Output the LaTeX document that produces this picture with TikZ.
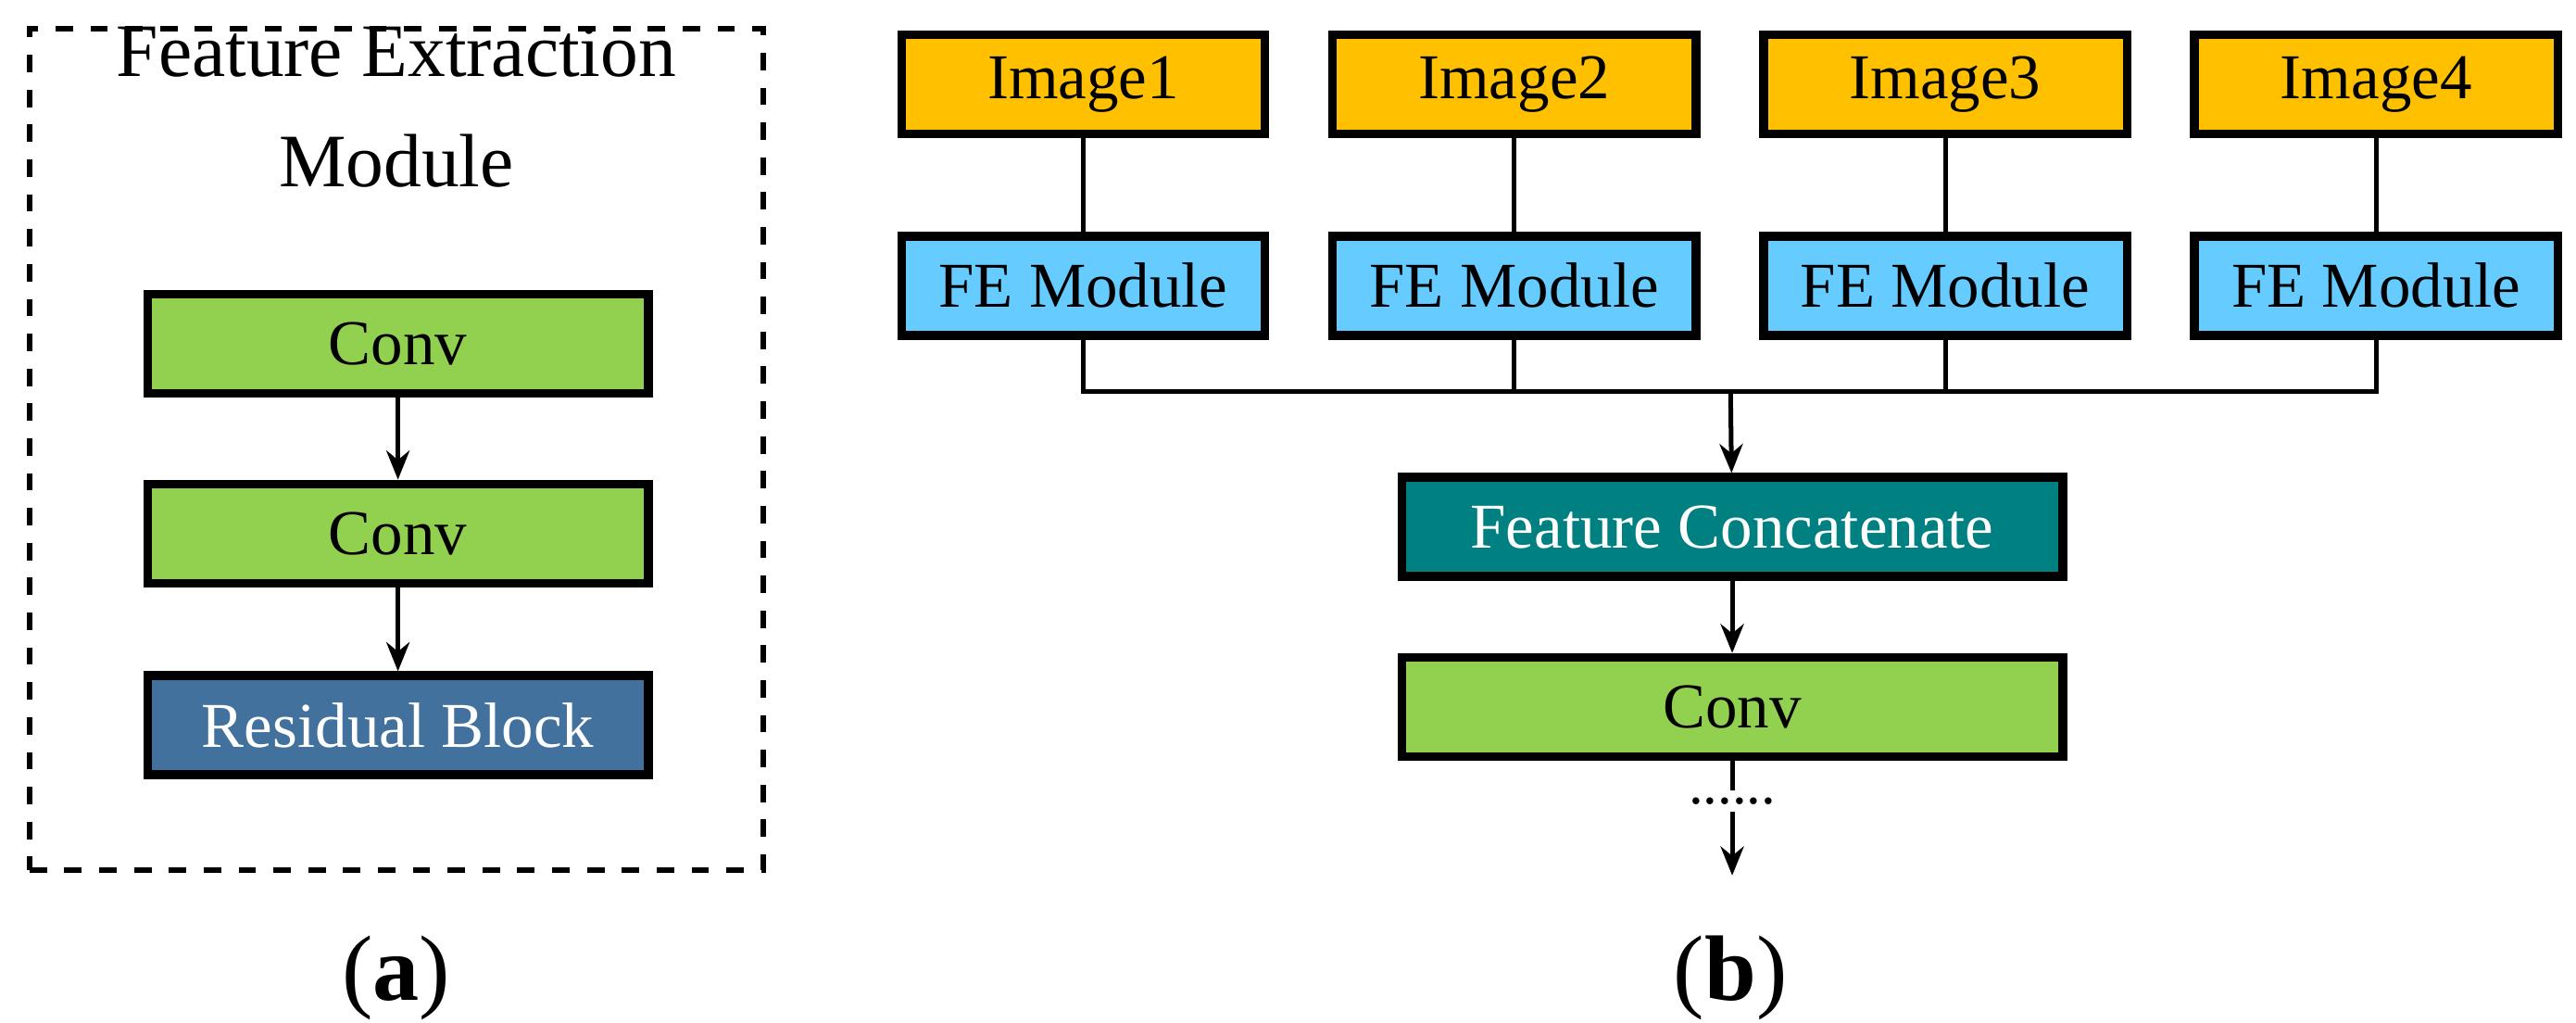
\documentclass[tikz,border=0pt]{standalone}
\usepackage{fontspec}
\setmainfont{Liberation Serif}
\usetikzlibrary{arrows.meta, positioning}
\definecolor{orange1}{HTML}{FFC000}
\definecolor{blue1}{HTML}{66CCFF}
\definecolor{green1}{HTML}{92D050}
\definecolor{teal1}{HTML}{008080}
\definecolor{navy1}{HTML}{41719C}

\begin{document}
\begin{tikzpicture}[x=0.01cm, y=-0.01cm,
    box/.style={draw=black, line width=1.5pt, minimum height=0.6cm, inner sep=0pt, font=\fontsize{11}{13}\selectfont},
    small/.style={box, minimum width=2.2cm},
    wide/.style={box, minimum width=3.03cm},
    big/.style={box, minimum width=4.0cm},
    arr/.style={-{Stealth[length=5pt,width=4pt]}, line width=0.8pt}]
    \useasboundingbox (0,0) rectangle (1560,619);
    % panel (a)
    \node[draw, dashed, line width=1pt, minimum width=4.44cm, minimum height=5.09cm] (frame) at (240,272) {};
    \node[align=center, font=\fontsize{13}{19}\selectfont] (title) at (240,65) {Feature Extraction\\Module};
    \node[wide, fill=green1] (conv1) at (241,208) {Conv};
    \node[wide, fill=green1] (conv2) at (241,323) {Conv};
    \node[wide, fill=navy1, text=white] (res) at (241,439) {Residual Block};
    \draw[arr] (conv1) -- (conv2);
    \draw[arr] (conv2) -- (res);
    \node[font=\fontsize{16}{18}\selectfont] (la) at (240,592) {(\textbf{a})};

    % panel (b)
    \foreach \i/\x in {1/656, 2/917, 3/1178, 4/1439} {
        \node[small, fill=orange1] (img\i) at (\x,51) {Image\i};
        \node[small, fill=blue1] (fe\i) at (\x,173) {FE Module};
        \draw[line width=0.8pt] (img\i) -- (fe\i);
    }
    \coordinate (bus) at (1048,237);
    \draw[line width=0.8pt] (fe1.south) |- (bus) -| (fe4.south);
    \draw[line width=0.8pt] (fe2.south) -- (fe2.south |- bus);
    \draw[line width=0.8pt] (fe3.south) -- (fe3.south |- bus);
    \node[big, fill=teal1, text=white] (cat) at (1049,319) {Feature Concatenate};
    \node[big, fill=green1] (conv3) at (1049,428) {Conv};
    \draw[arr] (bus) -- (cat);
    \draw[arr] (cat) -- (conv3);
    \node[inner sep=1pt] (dots) at (1049,485) {......};
    \coordinate (end) at (1049,530);
    \draw[line width=0.8pt] (conv3) -- (dots.north);
    \draw[arr] (dots.south) -- (end);
    \node[font=\fontsize{16}{18}\selectfont] (lb) at (1048,592) {(\textbf{b})};
\end{tikzpicture}
\end{document}
